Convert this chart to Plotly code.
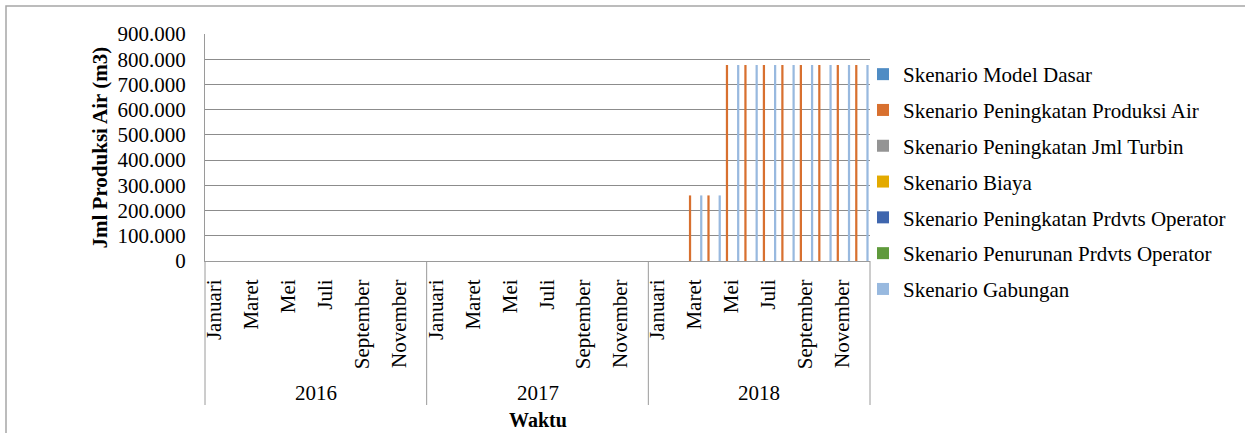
import plotly.graph_objects as go

# ---- data ----
years = ["2016", "2017", "2018"]
months = ["Januari", "Februari", "Maret", "April", "Mei", "Juni",
          "Juli", "Agustus", "September", "Oktober", "November", "Desember"]
tick_months = ["Januari", "Maret", "Mei", "Juli", "September", "November"]

series_names = [
    "Skenario Model Dasar",
    "Skenario Peningkatan Produksi Air",
    "Skenario Peningkatan Jml Turbin",
    "Skenario Biaya",
    "Skenario Peningkatan Prdvts Operator",
    "Skenario Penurunan Prdvts Operator",
    "Skenario Gabungan",
]
series_colors = ["#4F8CC4", "#D8702F", "#949494", "#E3AA00", "#3F66AE", "#5F9A3B", "#98B9DF"]

# monthly values Jan 2016 .. Dec 2018 (36 months)
model_dasar = [0, 0, 0, 0, 0, 0, 0, 0, 0, 0, 0, 0,
               0, 0, 0, 0, 0, 0, 0, 0, 0, 0, 0, 0,
               0, 0, 0, 0, 0, 0, 0, 0, 0, 0, 0, 0]
produksi_air = [0, 0, 0, 0, 0, 0, 0, 0, 0, 0, 0, 0,
                0, 0, 0, 0, 0, 0, 0, 0, 0, 0, 0, 0,
                0, 0, 260000, 260000, 777000, 777000, 777000, 777000, 777000, 777000, 777000, 777000]
jml_turbin = [0, 0, 0, 0, 0, 0, 0, 0, 0, 0, 0, 0,
              0, 0, 0, 0, 0, 0, 0, 0, 0, 0, 0, 0,
              0, 0, 0, 0, 0, 0, 0, 0, 0, 0, 0, 0]
biaya = [0, 0, 0, 0, 0, 0, 0, 0, 0, 0, 0, 0,
         0, 0, 0, 0, 0, 0, 0, 0, 0, 0, 0, 0,
         0, 0, 0, 0, 0, 0, 0, 0, 0, 0, 0, 0]
naik_prdvts = [0, 0, 0, 0, 0, 0, 0, 0, 0, 0, 0, 0,
               0, 0, 0, 0, 0, 0, 0, 0, 0, 0, 0, 0,
               0, 0, 0, 0, 0, 0, 0, 0, 0, 0, 0, 0]
turun_prdvts = [0, 0, 0, 0, 0, 0, 0, 0, 0, 0, 0, 0,
                0, 0, 0, 0, 0, 0, 0, 0, 0, 0, 0, 0,
                0, 0, 0, 0, 0, 0, 0, 0, 0, 0, 0, 0]
gabungan = [0, 0, 0, 0, 0, 0, 0, 0, 0, 0, 0, 0,
            0, 0, 0, 0, 0, 0, 0, 0, 0, 0, 0, 0,
            0, 0, 260000, 260000, 777000, 777000, 777000, 777000, 777000, 777000, 777000, 777000]

series_values = [model_dasar, produksi_air, jml_turbin, biaya, naik_prdvts, turun_prdvts, gabungan]

y_ticks = [0, 100000, 200000, 300000, 400000, 500000, 600000, 700000, 800000, 900000]

# ---- figure ----
FONT = "Liberation Serif"
categories = [f"{m} {y}" for y in years for m in months]
tickvals = [f"{m} {y}" for y in years for m in tick_months]
ticktext = [m for y in years for m in tick_months]

fig = go.Figure()
for name, color, vals in zip(series_names, series_colors, series_values):
    fig.add_trace(go.Bar(
        x=categories, y=vals, name=name, legendgroup=name,
        marker=dict(color=color, line=dict(width=0)),
    ))

W, H = 1245, 433
L, R, T, B = 205, 375, 34, 172
pw, ph = W - L - R, H - T - B

def px_x(p):
    return (p - L) / pw

def px_y(p):
    return (H - B - p) / ph

grid = "#8C8C8C"
axis_c = "#9A9A9A"

fig.update_layout(
    width=W, height=H,
    margin=dict(l=L, r=R, t=T, b=B, pad=0),
    paper_bgcolor="white", plot_bgcolor="white",
    barmode="group", bargap=0.15, bargroupgap=0,
    separators=",.",
    font=dict(family=FONT, size=21, color="black"),
    showlegend=True,
    legend=dict(
        x=px_x(863), y=px_y(54), xanchor="left", yanchor="top",
        font=dict(family=FONT, size=21, color="black"),
        traceorder="grouped", tracegroupgap=5.5,
        bgcolor="rgba(0,0,0,0)", borderwidth=0,
        maxheight=400,
    ),
    xaxis=dict(
        type="category", categoryorder="array", categoryarray=categories,
        tickmode="array", tickvals=tickvals, ticktext=ticktext,
        tickangle=-90, ticks="", showgrid=False,
        showline=True, linecolor=axis_c, linewidth=1,
        tickfont=dict(family=FONT, size=21, color="black"),
        ticklabelstandoff=9,
        range=[-0.5, len(categories) - 0.5],
    ),
    yaxis=dict(
        range=[0, 900000], tickmode="array", tickvals=y_ticks,
        tickformat=",.0f", ticks="",
        showgrid=True, gridcolor=grid, gridwidth=1,
        showline=True, linecolor=axis_c, linewidth=1, zeroline=False,
        tickfont=dict(family=FONT, size=21, color="black"),
        ticklabelstandoff=14,
    ),
)

shapes = []
# category group dividers (multi-level axis)
for i in range(len(years) + 1):
    shapes.append(dict(type="line", xref="x domain", yref="paper",
                       x0=i / len(years), x1=i / len(years), y0=0, y1=px_y(405),
                       line=dict(color=axis_c, width=1)))
# chart area frame
shapes.append(dict(type="rect", xref="paper", yref="paper",
                   x0=px_x(6), x1=px_x(1260), y0=px_y(6), y1=px_y(450),
                   line=dict(color="#A6A6A6", width=1.5), fillcolor="rgba(0,0,0,0)"))
fig.update_layout(shapes=shapes)

annotations = []
for i, y in enumerate(years):
    annotations.append(dict(text=y, xref="x", yref="paper",
                            x=i * len(months) + (len(months) - 1) / 2, y=px_y(393),
                            xanchor="center", yanchor="middle", showarrow=False,
                            font=dict(family=FONT, size=21, color="black")))
annotations.append(dict(text="<b>Waktu</b>", xref="paper", yref="paper",
                        x=0.5, y=px_y(420), xanchor="center", yanchor="middle",
                        showarrow=False, font=dict(family=FONT, size=20, color="black")))
annotations.append(dict(text="<b>Jml Produksi Air (m3)</b>", xref="paper", yref="paper",
                        x=px_x(99), y=0.5, xanchor="center", yanchor="middle",
                        textangle=-90, showarrow=False,
                        font=dict(family=FONT, size=21, color="black")))
fig.update_layout(annotations=annotations)

fig.write_html("out.html")
